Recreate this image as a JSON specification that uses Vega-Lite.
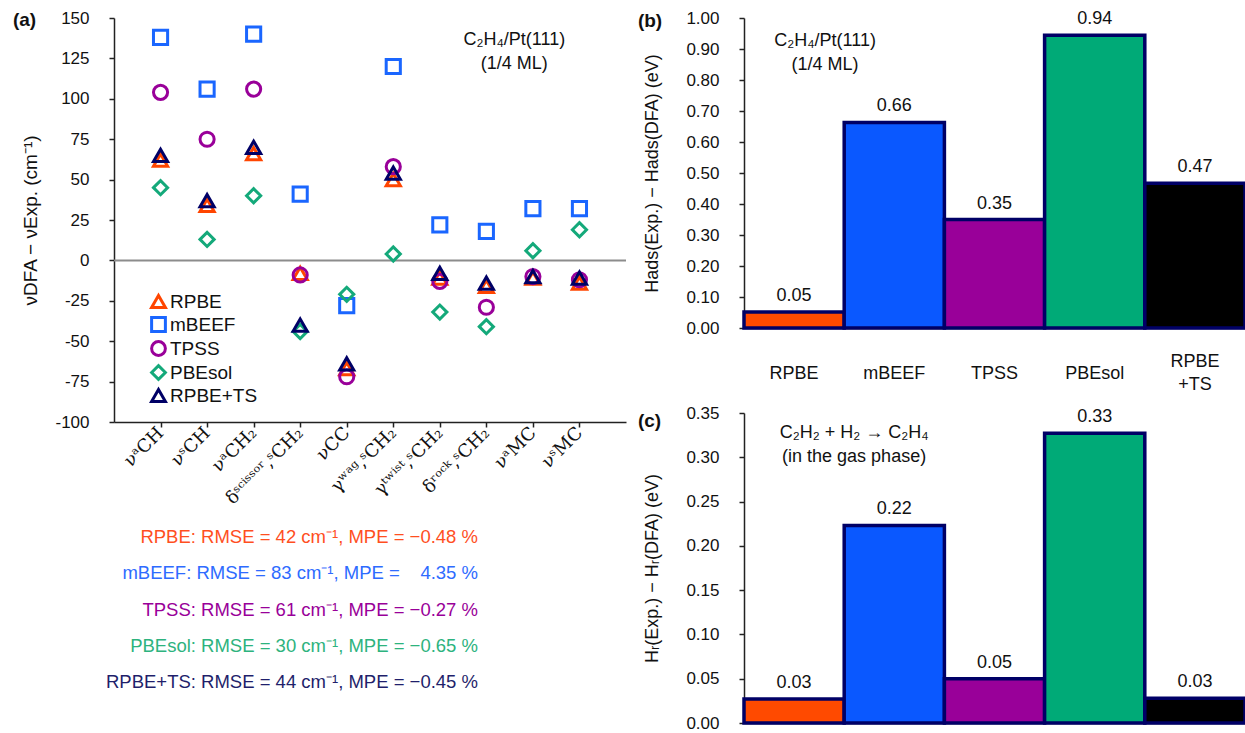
{
  "$schema": "https://vega.github.io/schema/vega-lite/v6.json",
  "background": "white",
  "padding": {"left": 12, "top": 9, "right": 0, "bottom": 0},
  "config": {
    "font": "Liberation Sans",
    "view": {"stroke": null},
    "axis": {"grid": false, "domainColor": "#222222", "tickColor": "#222222", "labelColor": "#111111", "titleColor": "#111111", "labelFontSize": 17, "titleFontSize": 18, "titleFontWeight": "normal", "domainWidth": 1.5, "tickWidth": 1.5, "tickSize": 5, "labelOverlap": false}
  },
  "datasets": {
    "modes": [
      {"mode": "νᵃCH", "method": "RPBE", "value": 62},
      {"mode": "νˢCH", "method": "RPBE", "value": 34},
      {"mode": "νᵃCH₂", "method": "RPBE", "value": 66},
      {"mode": "δˢᶜⁱˢˢᵒʳ,ˢCH₂", "method": "RPBE", "value": -8},
      {"mode": "νCC", "method": "RPBE", "value": -67},
      {"mode": "γʷᵃᵍ,ˢCH₂", "method": "RPBE", "value": 50},
      {"mode": "γᵗʷⁱˢᵗ,ˢCH₂", "method": "RPBE", "value": -11},
      {"mode": "δʳᵒᶜᵏ,ˢCH₂", "method": "RPBE", "value": -16},
      {"mode": "νᵃMC", "method": "RPBE", "value": -11},
      {"mode": "νˢMC", "method": "RPBE", "value": -14},
      {"mode": "νᵃCH", "method": "mBEEF", "value": 138},
      {"mode": "νˢCH", "method": "mBEEF", "value": 106},
      {"mode": "νᵃCH₂", "method": "mBEEF", "value": 140},
      {"mode": "δˢᶜⁱˢˢᵒʳ,ˢCH₂", "method": "mBEEF", "value": 41},
      {"mode": "νCC", "method": "mBEEF", "value": -28},
      {"mode": "γʷᵃᵍ,ˢCH₂", "method": "mBEEF", "value": 120},
      {"mode": "γᵗʷⁱˢᵗ,ˢCH₂", "method": "mBEEF", "value": 22},
      {"mode": "δʳᵒᶜᵏ,ˢCH₂", "method": "mBEEF", "value": 18},
      {"mode": "νᵃMC", "method": "mBEEF", "value": 32},
      {"mode": "νˢMC", "method": "mBEEF", "value": 32},
      {"mode": "νᵃCH", "method": "TPSS", "value": 104},
      {"mode": "νˢCH", "method": "TPSS", "value": 75},
      {"mode": "νᵃCH₂", "method": "TPSS", "value": 106},
      {"mode": "δˢᶜⁱˢˢᵒʳ,ˢCH₂", "method": "TPSS", "value": -9},
      {"mode": "νCC", "method": "TPSS", "value": -72},
      {"mode": "γʷᵃᵍ,ˢCH₂", "method": "TPSS", "value": 58},
      {"mode": "γᵗʷⁱˢᵗ,ˢCH₂", "method": "TPSS", "value": -13},
      {"mode": "δʳᵒᶜᵏ,ˢCH₂", "method": "TPSS", "value": -29},
      {"mode": "νᵃMC", "method": "TPSS", "value": -10},
      {"mode": "νˢMC", "method": "TPSS", "value": -12},
      {"mode": "νᵃCH", "method": "PBEsol", "value": 45},
      {"mode": "νˢCH", "method": "PBEsol", "value": 13},
      {"mode": "νᵃCH₂", "method": "PBEsol", "value": 40},
      {"mode": "δˢᶜⁱˢˢᵒʳ,ˢCH₂", "method": "PBEsol", "value": -44},
      {"mode": "νCC", "method": "PBEsol", "value": -21},
      {"mode": "γʷᵃᵍ,ˢCH₂", "method": "PBEsol", "value": 4},
      {"mode": "γᵗʷⁱˢᵗ,ˢCH₂", "method": "PBEsol", "value": -32},
      {"mode": "δʳᵒᶜᵏ,ˢCH₂", "method": "PBEsol", "value": -41},
      {"mode": "νᵃMC", "method": "PBEsol", "value": 6},
      {"mode": "νˢMC", "method": "PBEsol", "value": 19},
      {"mode": "νᵃCH", "method": "RPBE+TS", "value": 65},
      {"mode": "νˢCH", "method": "RPBE+TS", "value": 37},
      {"mode": "νᵃCH₂", "method": "RPBE+TS", "value": 70},
      {"mode": "δˢᶜⁱˢˢᵒʳ,ˢCH₂", "method": "RPBE+TS", "value": -40},
      {"mode": "νCC", "method": "RPBE+TS", "value": -64},
      {"mode": "γʷᵃᵍ,ˢCH₂", "method": "RPBE+TS", "value": 54},
      {"mode": "γᵗʷⁱˢᵗ,ˢCH₂", "method": "RPBE+TS", "value": -8},
      {"mode": "δʳᵒᶜᵏ,ˢCH₂", "method": "RPBE+TS", "value": -14},
      {"mode": "νᵃMC", "method": "RPBE+TS", "value": -10},
      {"mode": "νˢMC", "method": "RPBE+TS", "value": -11}
    ],
    "rmse": [
      {"method": "RPBE", "line": "RPBE: RMSE = 42 cm⁻¹, MPE = −0.48 %"},
      {"method": "mBEEF", "line": "mBEEF: RMSE = 83 cm⁻¹, MPE = \u00a0\u00a0\u00a04.35 %"},
      {"method": "TPSS", "line": "TPSS: RMSE = 61 cm⁻¹, MPE = −0.27 %"},
      {"method": "PBEsol", "line": "PBEsol: RMSE = 30 cm⁻¹, MPE = −0.65 %"},
      {"method": "RPBE+TS", "line": "RPBE+TS: RMSE = 44 cm⁻¹, MPE = −0.45 %"}
    ],
    "ads": [
      {"method": "RPBE", "value": 0.052},
      {"method": "mBEEF", "value": 0.663},
      {"method": "TPSS", "value": 0.35},
      {"method": "PBEsol", "value": 0.944},
      {"method": "RPBE+TS", "value": 0.467}
    ],
    "rxn": [
      {"method": "RPBE", "value": 0.027},
      {"method": "mBEEF", "value": 0.223},
      {"method": "TPSS", "value": 0.05},
      {"method": "PBEsol", "value": 0.327},
      {"method": "RPBE+TS", "value": 0.028}
    ]
  },
  "bounds": "full",
  "spacing": 10,
  "resolve": {"scale": {"color": "independent", "shape": "independent", "fill": "independent", "x": "independent", "y": "independent"}},
  "hconcat": [
    {
      "bounds": "flush",
      "spacing": 97,
      "resolve": {"scale": {"color": "independent", "shape": "independent", "fill": "independent", "x": "independent", "y": "independent"}},
      "vconcat": [
        {
          "width": 512,
          "height": 404,
          "title": {"text": "(a)", "anchor": "start", "frame": "bounds", "orient": "top", "dx": -9, "offset": -30, "baseline": "middle", "fontSize": 19, "fontWeight": "bold", "color": "#111111"},
          "layer": [
            {
              "data": {"values": [{"zero": 0}]},
              "mark": {"type": "rule", "color": "#8c8c8c", "strokeWidth": 2},
              "encoding": {"y": {"field": "zero", "type": "quantitative", "scale": {"domain": [-100, 150], "nice": false}}}
            },
            {
              "data": {"name": "modes"},
              "mark": {"type": "point", "filled": false, "size": 200, "strokeWidth": 3, "opacity": 1},
              "encoding": {
                "x": {"field": "mode", "type": "nominal", "sort": null,
                  "scale": {"type": "point", "padding": 1, "domain": ["νᵃCH", "νˢCH", "νᵃCH₂", "δˢᶜⁱˢˢᵒʳ,ˢCH₂", "νCC", "γʷᵃᵍ,ˢCH₂", "γᵗʷⁱˢᵗ,ˢCH₂", "δʳᵒᶜᵏ,ˢCH₂", "νᵃMC", "νˢMC"]},
                  "axis": {"title": null, "labelAngle": -45, "labelAlign": "right", "labelBaseline": "middle", "labelFont": "DejaVu Serif", "labelFontSize": 18, "labelPadding": 3}},
                "y": {"field": "value", "type": "quantitative", "scale": {"domain": [-100, 150], "nice": false},
                  "axis": {"values": [-100, -75, -50, -25, 0, 25, 50, 75, 100, 125, 150], "tickCount": 11, "labelExpr": "'' + datum.value", "labelOverlap": false, "labelPadding": 20, "title": "νDFA − νExp. (cm⁻¹)", "titleFontSize": 19, "titlePadding": 14}},
                "color": {"field": "method", "type": "nominal",
                  "scale": {"domain": ["RPBE", "mBEEF", "TPSS", "PBEsol", "RPBE+TS"], "range": ["#ff4500", "#1a66ff", "#990099", "#14a97a", "#000066"]},
                  "legend": {"title": null, "orient": "none", "legendX": 35, "legendY": 274, "padding": 0, "labelFontSize": 19, "labelColor": "#111111", "symbolSize": 190, "symbolStrokeWidth": 3, "rowPadding": -3, "labelOffset": 2}},
                "shape": {"field": "method", "type": "nominal",
                  "scale": {"domain": ["RPBE", "mBEEF", "TPSS", "PBEsol", "RPBE+TS"], "range": ["triangle-up", "square", "circle", "diamond", "triangle-up"]},
                  "legend": {"title": null, "orient": "none", "legendX": 35, "legendY": 274, "padding": 0, "labelFontSize": 19, "labelColor": "#111111", "symbolSize": 190, "symbolStrokeWidth": 3, "rowPadding": -3, "labelOffset": 2}}
              }
            },
            {
              "data": {"values": [{"mode": "δʳᵒᶜᵏ,ˢCH₂", "value": 136.4, "note": "C₂H₄/Pt(111)\n(1/4 ML)"}]},
              "mark": {"type": "text", "lineBreak": "\n", "fontSize": 18, "dx": 28, "align": "center", "baseline": "middle", "lineHeight": 24, "color": "#111111"},
              "encoding": {
                "x": {"field": "mode", "type": "nominal"},
                "y": {"field": "value", "type": "quantitative"},
                "text": {"field": "note"}
              }
            }
          ]
        },
        {
          "width": 364,
          "height": 181,
          "data": {"name": "rmse"},
          "mark": {"type": "text", "align": "right", "baseline": "middle", "fontSize": 18.5},
          "encoding": {
            "y": {"field": "method", "type": "nominal", "sort": null, "axis": null},
            "x": {"datum": 1, "type": "quantitative", "scale": {"domain": [0, 1]}, "axis": null},
            "text": {"field": "line"},
            "color": {"field": "method", "type": "nominal",
              "scale": {"domain": ["RPBE", "mBEEF", "TPSS", "PBEsol", "RPBE+TS"], "range": ["#ff4f1f", "#2e6bff", "#990099", "#2db37e", "#1f1f6b"]},
              "legend": null}
          }
        }
      ]
    },
    {
      "bounds": "flush",
      "spacing": 85,
      "resolve": {"scale": {"color": "independent", "shape": "independent", "fill": "independent", "x": "independent", "y": "independent"}},
      "vconcat": [
        {
          "width": 501,
          "height": 310,
          "title": {"text": "(b)", "anchor": "start", "frame": "bounds", "orient": "top", "dx": -6, "offset": -31, "baseline": "middle", "fontSize": 19, "fontWeight": "bold", "color": "#111111"},
          "layer": [
            {
              "data": {"name": "ads"},
              "mark": {"type": "bar", "stroke": "#000066", "strokeWidth": 3.5},
              "encoding": {
                "x": {"field": "method", "type": "nominal", "sort": null,
                  "scale": {"domain": ["RPBE", "mBEEF", "TPSS", "PBEsol", "RPBE+TS"], "paddingInner": 0, "paddingOuter": 0},
                  "axis": {"title": null, "labelAngle": 0, "ticks": false, "labelBaseline": "middle", "labelFontSize": 18, "labelLineHeight": 23,
                    "labelPadding": {"condition": {"test": "datum.value == 'RPBE+TS'", "value": 33}, "value": 45},
                    "labelExpr": "datum.value == 'RPBE+TS' ? ['RPBE', '+TS'] : datum.value"}},
                "y": {"field": "value", "type": "quantitative", "scale": {"domain": [0, 1], "nice": false},
                  "axis": {"values": [0, 0.1, 0.2, 0.3, 0.4, 0.5, 0.6, 0.7, 0.8, 0.9, 1.0], "tickCount": 11, "format": ".2f", "labelOverlap": false, "labelPadding": 20, "title": "Hads(Exp.) − Hads(DFA) (eV)", "titlePadding": 24}},
                "fill": {"field": "method", "type": "nominal",
                  "scale": {"domain": ["RPBE", "mBEEF", "TPSS", "PBEsol", "RPBE+TS"], "range": ["#ff4a00", "#0a58ff", "#990099", "#00aa77", "#000000"]},
                  "legend": null}
              }
            },
            {
              "data": {"name": "ads"},
              "mark": {"type": "text", "dy": -11, "baseline": "alphabetic", "fontSize": 18, "color": "#111111"},
              "encoding": {
                "x": {"field": "method", "type": "nominal", "sort": null},
                "y": {"field": "value", "type": "quantitative"},
                "text": {"field": "value", "type": "quantitative", "format": ".2f"}
              }
            },
            {
              "data": {"values": [{"method": "RPBE", "value": 0.926, "note": "C₂H₄/Pt(111)\n(1/4 ML)"}]},
              "mark": {"type": "text", "lineBreak": "\n", "fontSize": 18, "dx": 31, "align": "center", "baseline": "middle", "lineHeight": 24, "color": "#111111"},
              "encoding": {
                "x": {"field": "method", "type": "nominal"},
                "y": {"field": "value", "type": "quantitative"},
                "text": {"field": "note"}
              }
            }
          ]
        },
        {
          "width": 501,
          "height": 310,
          "title": {"text": "(c)", "anchor": "start", "frame": "bounds", "orient": "top", "dx": -6, "offset": -36, "baseline": "middle", "fontSize": 19, "fontWeight": "bold", "color": "#111111"},
          "layer": [
            {
              "data": {"name": "rxn"},
              "mark": {"type": "bar", "stroke": "#000066", "strokeWidth": 3.5},
              "encoding": {
                "x": {"field": "method", "type": "nominal", "sort": null,
                  "scale": {"domain": ["RPBE", "mBEEF", "TPSS", "PBEsol", "RPBE+TS"], "paddingInner": 0, "paddingOuter": 0},
                  "axis": {"title": null, "labels": false, "ticks": false}},
                "y": {"field": "value", "type": "quantitative", "scale": {"domain": [0, 0.35], "nice": false},
                  "axis": {"values": [0, 0.05, 0.1, 0.15, 0.2, 0.25, 0.3, 0.35], "tickCount": 8, "format": ".2f", "labelOverlap": false, "labelPadding": 20, "title": "Hᵣ(Exp.) − Hᵣ(DFA) (eV)", "titlePadding": 24}},
                "fill": {"field": "method", "type": "nominal",
                  "scale": {"domain": ["RPBE", "mBEEF", "TPSS", "PBEsol", "RPBE+TS"], "range": ["#ff4a00", "#0a58ff", "#990099", "#00aa77", "#000000"]},
                  "legend": null}
              }
            },
            {
              "data": {"name": "rxn"},
              "mark": {"type": "text", "dy": -11, "baseline": "alphabetic", "fontSize": 18, "color": "#111111"},
              "encoding": {
                "x": {"field": "method", "type": "nominal", "sort": null},
                "y": {"field": "value", "type": "quantitative"},
                "text": {"field": "value", "type": "quantitative", "format": ".2f"}
              }
            },
            {
              "data": {"values": [{"method": "RPBE", "value": 0.327, "note": "C₂H₂ + H₂ → C₂H₄\n(in the gas phase)"}]},
              "mark": {"type": "text", "lineBreak": "\n", "fontSize": 18, "dx": 60, "align": "center", "baseline": "middle", "lineHeight": 24, "color": "#111111"},
              "encoding": {
                "x": {"field": "method", "type": "nominal"},
                "y": {"field": "value", "type": "quantitative"},
                "text": {"field": "note"}
              }
            }
          ]
        }
      ]
    }
  ]
}
